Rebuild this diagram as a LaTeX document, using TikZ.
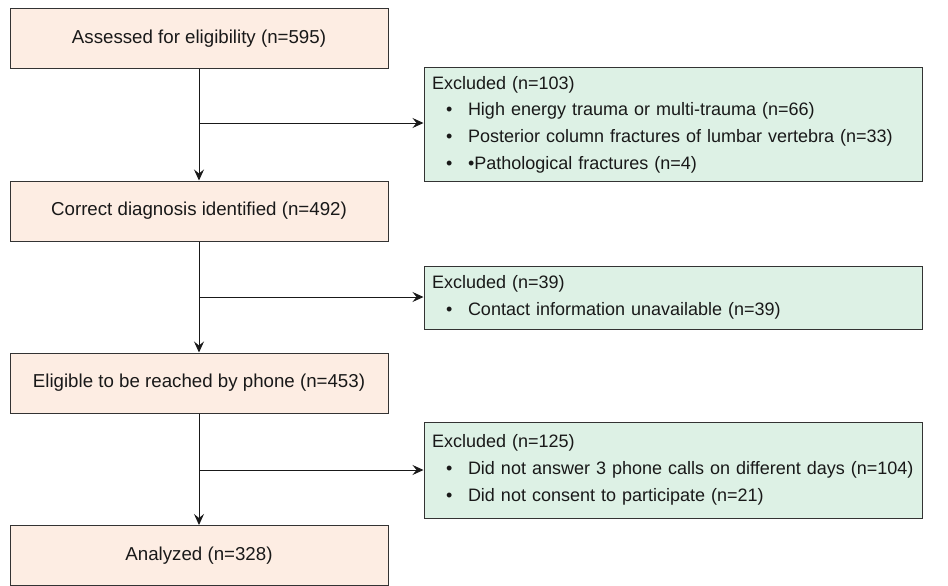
\documentclass[tikz,border=0pt]{standalone}
\usepackage{fontspec}
\setmainfont{Liberation Sans}
\usetikzlibrary{arrows.meta}
\definecolor{peach}{HTML}{FDEDE3}
\definecolor{mint}{HTML}{DDF1E5}
\definecolor{edge}{HTML}{333333}
\newcommand{\bul}{\makebox[36pt][l]{\hspace{14pt}•}}
\tikzset{
  stagebox/.style={draw=edge, fill=peach, line width=1pt, minimum width=378pt, minimum height=60pt, inner sep=0pt, font=\fontsize{18.7}{24}\selectfont, text=black!90},
  exbox/.style={draw=edge, fill=mint, line width=1pt, minimum width=498pt, text width=482pt, inner xsep=8pt, inner ysep=0pt, align=left, font=\fontsize{18}{26.7}\selectfont, text=black!90},
  conn/.style={line width=1pt, draw=black!90},
  arr/.style={conn, -{Stealth[length=11pt,width=10pt,inset=4pt]}}
}
\begin{document}
\begin{tikzpicture}[x=1pt,y=-1pt]
\useasboundingbox (0,0) rectangle (948,586);
\node[stagebox] (s1) at (199,39) {Assessed for eligibility (n=595)};
\node[stagebox] (s2) at (199,211) {Correct diagnosis identified (n=492)};
\node[stagebox] (s3) at (199,383) {Eligible to be reached by phone (n=453)};
\node[stagebox] (s4) at (199,555.5) {Analyzed (n=328)};
\node[exbox, minimum height=113pt] (e1) at (673,124.5) {Excluded (n=103)\\\bul High energy trauma or multi-trauma (n=66)\\\bul Posterior column fractures of lumbar vertebra (n=33)\\\bul •Pathological fractures (n=4)};
\node[exbox, minimum height=63pt] (e2) at (673,297.5) {Excluded (n=39)\\\bul Contact information unavailable (n=39)};
\node[exbox, minimum height=96pt] (e3) at (673,470) {Excluded (n=125)\\\bul Did not answer 3 phone calls on different days (n=104)\\\bul Did not consent to participate (n=21)};
\coordinate (b1) at (199,123);
\coordinate (b2) at (199,297);
\coordinate (b3) at (199,470);
\draw[arr] (s1) -- (s2);
\draw[arr] (s2) -- (s3);
\draw[arr] (s3) -- (s4);
\draw[arr] (b1) -- (b1 -| e1.west);
\draw[arr] (b2) -- (b2 -| e2.west);
\draw[arr] (b3) -- (b3 -| e3.west);
\end{tikzpicture}
\end{document}
